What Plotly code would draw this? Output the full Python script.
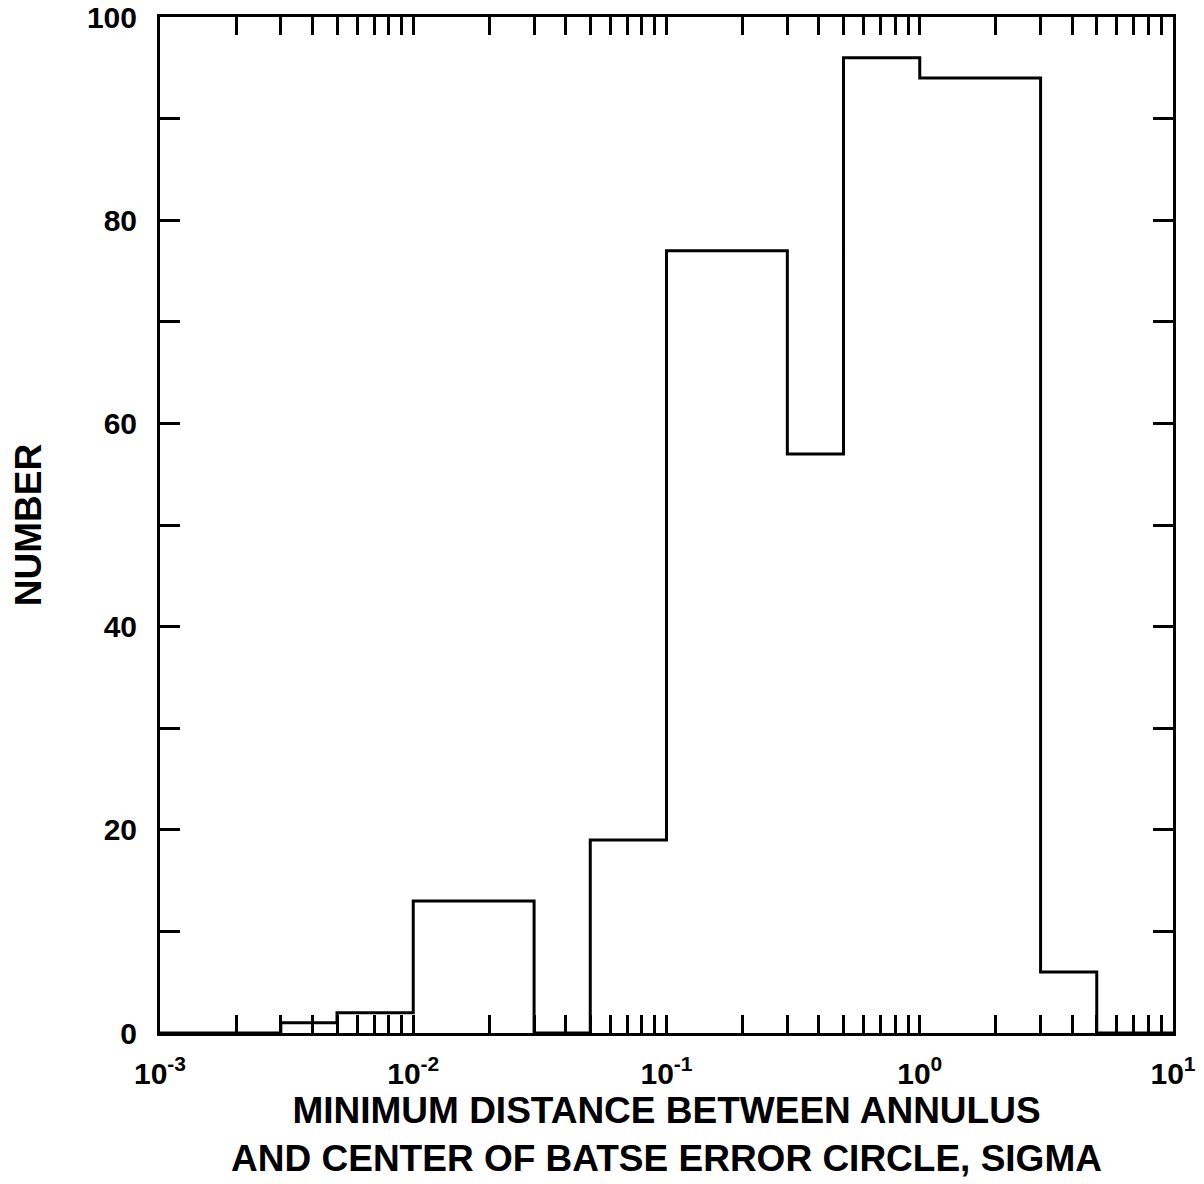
import plotly.graph_objects as go

# Histogram bin edges (sigma) and counts
bin_edges = [0.001, 0.003, 0.005, 0.01, 0.03, 0.05, 0.1, 0.3, 0.5, 1.0, 3.0, 5.0, 10.0]
counts = [0, 1, 2, 13, 0, 19, 77, 57, 96, 94, 6, 0]

x_decades = [0.001, 0.01, 0.1, 1, 10]
x_decade_labels = ["10<sup>-3</sup>", "10<sup>-2</sup>", "10<sup>-1</sup>", "10<sup>0</sup>", "10<sup>1</sup>"]
y_ticks = [0, 20, 40, 60, 80, 100]
y_labels = ["0", "20", "40", "60", "80", "100"]

FONT = "Liberation Sans, Arial, Helvetica, sans-serif"

fig = go.Figure()
fig.add_trace(go.Scatter(
    x=bin_edges,
    y=counts + [counts[-1]],
    mode="lines",
    line=dict(shape="hv", color="black", width=3),
    showlegend=False,
    hoverinfo="skip",
))

fig.update_layout(
    width=1204, height=1184,
    margin=dict(l=152, r=39, t=9, b=159),
    paper_bgcolor="white", plot_bgcolor="white",
    font=dict(family=FONT, color="black", size=30, weight="bold"),
    xaxis=dict(
        type="log", range=[-3, 1], automargin=False,
        tickvals=x_decades, ticktext=x_decade_labels,
        ticks="inside", ticklen=18, tickwidth=3, tickcolor="black",
        minor=dict(dtick="D1", ticks="inside", ticklen=18, tickwidth=3, tickcolor="black", showgrid=False),
        showline=True, linewidth=3, linecolor="black", mirror="ticks",
        showgrid=False, zeroline=False, ticklabelstandoff=12,
        ticklabeloverflow="allow",
        tickfont=dict(size=30, family=FONT, weight="bold"),
        title=dict(text="MINIMUM DISTANCE BETWEEN ANNULUS<br>AND CENTER OF BATSE ERROR CIRCLE, SIGMA",
                   font=dict(size=37, family=FONT, weight="bold"), standoff=5),
    ),
    yaxis=dict(
        range=[0, 100], automargin=False,
        tickvals=y_ticks, ticktext=y_labels,
        ticks="inside", ticklen=20, tickwidth=3, tickcolor="black",
        minor=dict(dtick=10, ticks="inside", ticklen=20, tickwidth=3, tickcolor="black", showgrid=False),
        showline=True, linewidth=3, linecolor="black", mirror="ticks",
        showgrid=False, zeroline=False, ticklabelstandoff=14,
        ticklabeloverflow="allow",
        tickfont=dict(size=30, family=FONT, weight="bold"),
        title=dict(text="NUMBER", font=dict(size=37, family=FONT, weight="bold"), standoff=35),
    ),
)

fig.write_html("out.html")
